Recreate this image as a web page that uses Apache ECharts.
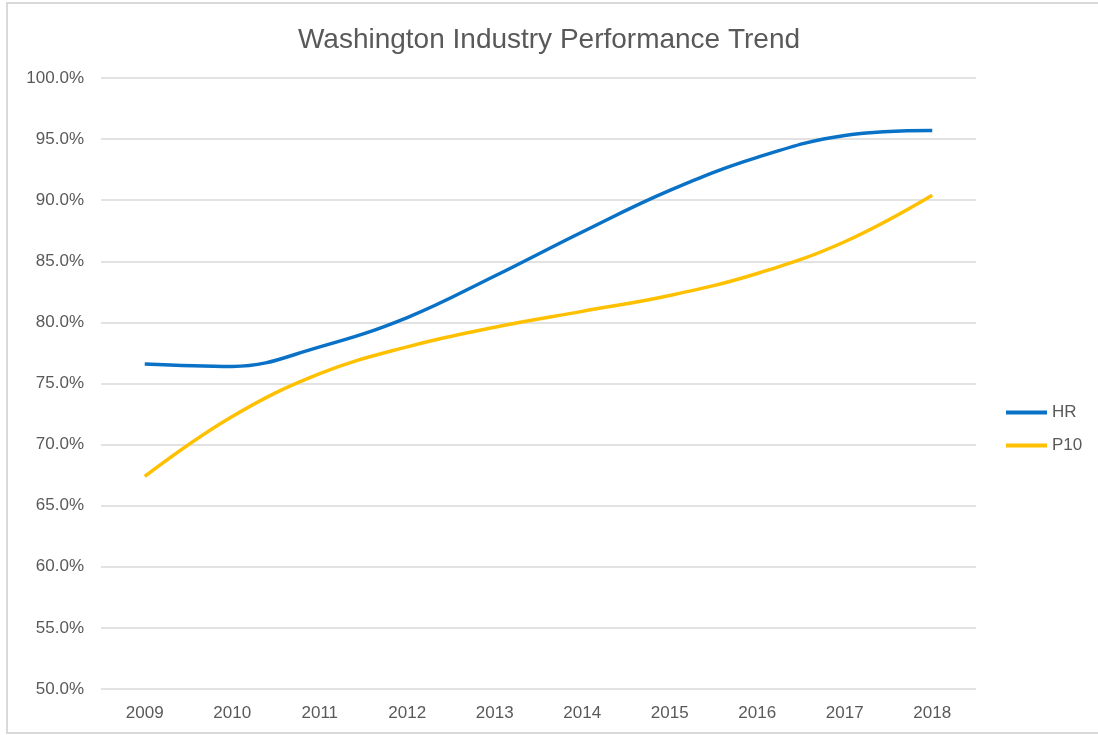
<!DOCTYPE html>
<html>
<head>
<meta charset="utf-8">
<script src="https://cdn.jsdelivr.net/npm/echarts@6/dist/echarts.min.js"></script>
<style>
  html, body { margin: 0; padding: 0; background: #fff; }
  #chart { width: 1098px; height: 735px; }
</style>
</head>
<body>
<div id="chart"></div>
<script>
const years = ['2009', '2010', '2011', '2012', '2013', '2014', '2015', '2016', '2017', '2018'];
const hr = [76.6, 76.4, 78.0, 80.4, 83.8, 87.4, 90.8, 93.5, 95.3, 95.7];
const p10 = [67.4, 72.3, 75.8, 78.0, 79.6, 80.9, 82.2, 84.0, 86.6, 90.4];

const myChart = echarts.init(document.getElementById('chart'));
const font = 'Liberation Sans, Arial, sans-serif';

const option = {
  backgroundColor: '#fff',
  animation: false,
  textStyle: { fontFamily: font },
  graphic: [
    {
      type: 'rect',
      shape: { x: 7, y: 3, width: 1096, height: 730 },
      style: { fill: 'none', stroke: '#d9d9d9', lineWidth: 2 }
    }
  ],
  title: {
    text: 'Washington Industry Performance Trend',
    left: 'center',
    top: 21,
    textStyle: { fontSize: 28, fontWeight: 'normal', color: '#595959', fontFamily: font }
  },
  legend: {
    orient: 'vertical',
    left: 1006,
    top: 404,
    padding: 0,
    itemWidth: 41,
    itemHeight: 4,
    itemGap: 16,
    icon: 'rect',
    data: ['HR', 'P10'],
    textStyle: { fontSize: 17, color: '#595959' }
  },
  grid: { left: 101, right: 122, top: 78, bottom: 46 },
  xAxis: {
    type: 'category',
    data: years,
    boundaryGap: true,
    axisLine: { show: false },
    axisTick: { show: false },
    axisLabel: { color: '#595959', fontSize: 17, margin: 16 }
  },
  yAxis: {
    type: 'value',
    min: 50,
    max: 100,
    interval: 5,
    axisLine: { show: false },
    axisTick: { show: false },
    axisLabel: {
      color: '#595959',
      fontSize: 17,
      margin: 17,
      formatter: v => v.toFixed(1) + '%'
    },
    splitLine: { lineStyle: { color: '#d9d9d9', width: 1.5 } }
  },
  series: [
    {
      name: 'HR',
      type: 'line',
      data: hr,
      smooth: 0.4,
      showSymbol: false,
      lineStyle: { color: '#0a72c6', width: 3.5 },
      itemStyle: { color: '#0a72c6' }
    },
    {
      name: 'P10',
      type: 'line',
      data: p10,
      smooth: 0.4,
      showSymbol: false,
      lineStyle: { color: '#ffc000', width: 3.5 },
      itemStyle: { color: '#ffc000' }
    }
  ]
};

myChart.setOption(option);
window.onresize = myChart.resize;
</script>
</body>
</html>
